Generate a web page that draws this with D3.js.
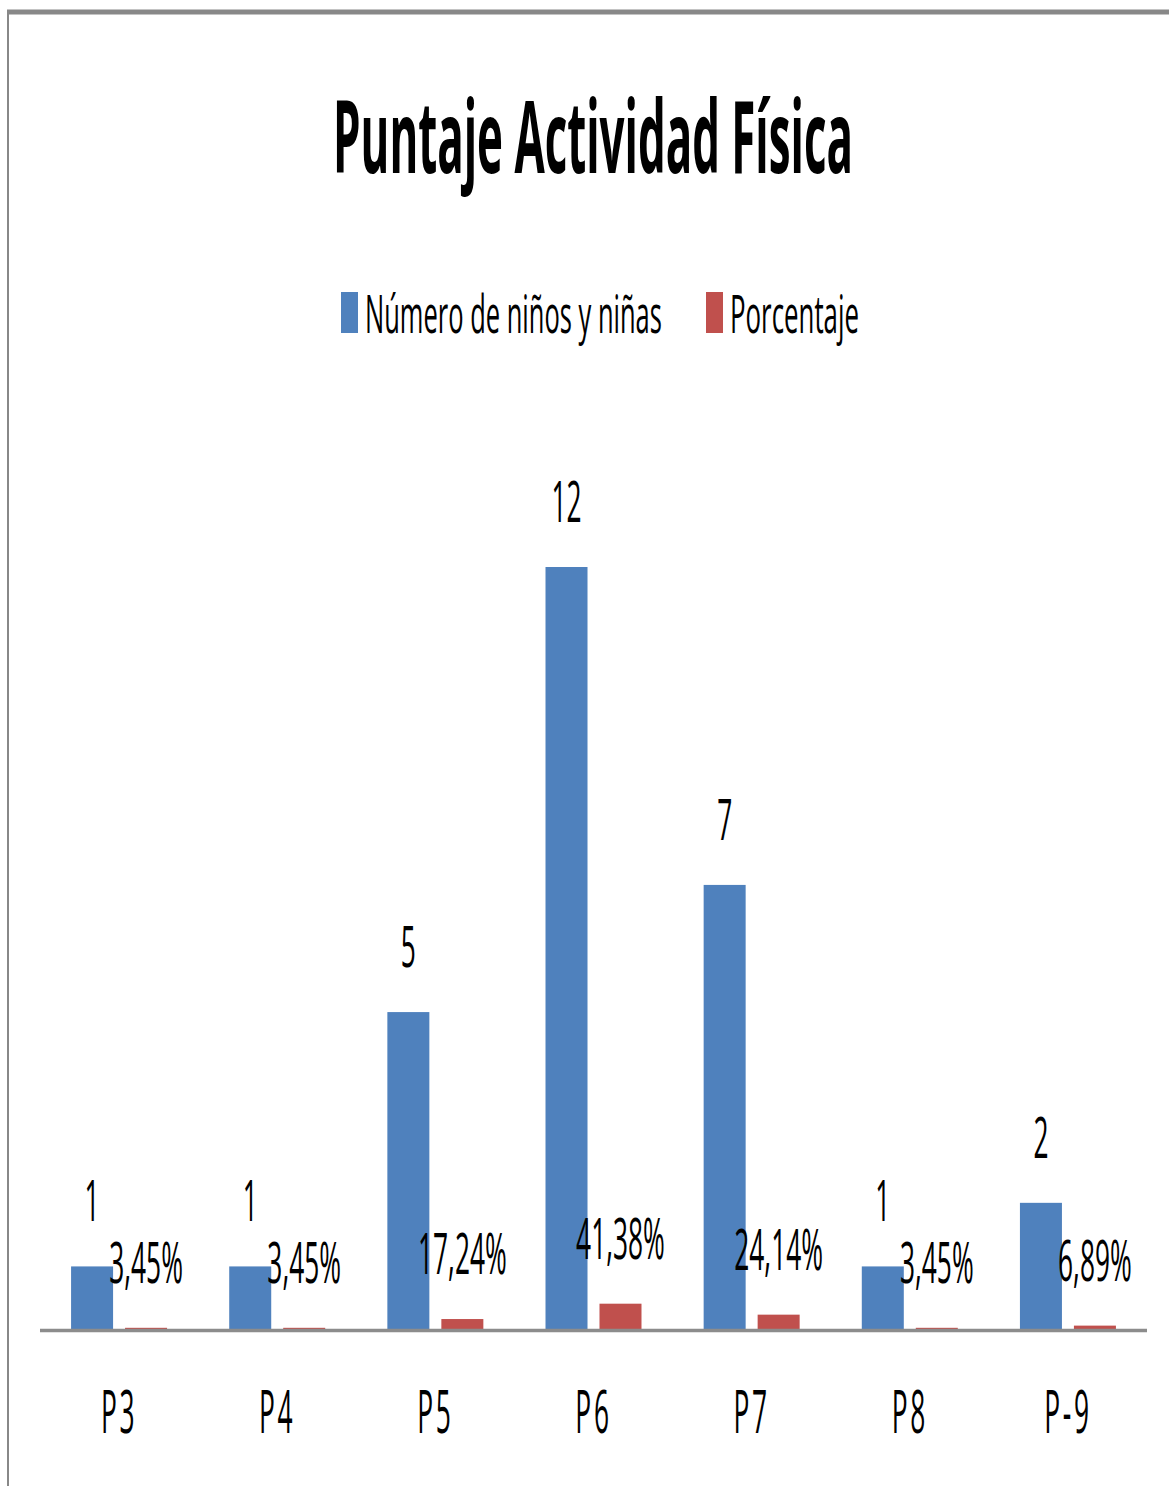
<!DOCTYPE html>
<html>
<head>
<meta charset="utf-8">
<script src="https://cdn.jsdelivr.net/npm/d3@7"></script>
<style>
  html, body { margin: 0; padding: 0; background: #fff; }
  svg { display: block; }
</style>
</head>
<body>
<div id="chart"></div>
<script>
// chart data
const categories = ['P3', 'P4', 'P5', 'P6', 'P7', 'P8', 'P-9'];
const seriesNames = ['Número de niños y niñas', 'Porcentaje'];
const ninos = [1, 1, 5, 12, 7, 1, 2];
const porcentaje = [0.0345, 0.0345, 0.1724, 0.4138, 0.2414, 0.0345, 0.0689];
const seriesColors = ['#4f81bd', '#c0504d'];
const chartTitle = 'Puntaje Actividad Física';

const width = 1169;
const height = 1486;
const plot = { left: 40, right: 1147, top: 567, bottom: 1330 };
const font = '"Open Sans", "Noto Sans", sans-serif';
const squash = 0.47; // the original text is very narrow

const svg = d3.select('#chart')
  .append('svg')
  .attr('width', width)
  .attr('height', height);

// Frame (only top and left edges are visible)
svg.append('path')
  .attr('d', `M8,${height} L8,12 L${width},12`)
  .attr('fill', 'none')
  .attr('stroke', '#888')
  .attr('stroke-width', 2);
svg.append('line')
  .attr('x1', 7).attr('x2', width)
  .attr('y1', 12).attr('y2', 12)
  .attr('stroke', '#888')
  .attr('stroke-width', 5);

// helper: horizontally condensed text
function narrowText(parent, x, y, str, opts) {
  const g = parent.append('g').attr('transform', `translate(${x},${y})`);
  const t = g.append('text')
    .attr('text-anchor', opts.anchor || 'middle')
    .style('font-family', font)
    .style('font-size', opts.size + 'px')
    .style('font-weight', opts.weight || 400)
    .style('letter-spacing', (opts.spacing || 0) + 'px')
    .attr('fill', '#000')
    .text(str);
  let sx = opts.sx || squash;
  if (opts.fitWidth) {
    sx = opts.fitWidth / t.node().getComputedTextLength();
  }
  t.attr('transform', `scale(${sx},1)`);
  return t;
}

// Title
narrowText(svg, 593, 173, chartTitle, { size: 101, weight: 700, fitWidth: 520 });

// Legend
const legendItems = [
  { name: seriesNames[0], color: seriesColors[0], x: 341, w: 297 },
  { name: seriesNames[1], color: seriesColors[1], x: 706, w: 129 }
];
legendItems.forEach(item => {
  svg.append('rect')
    .attr('x', item.x).attr('y', 292)
    .attr('width', 17).attr('height', 41)
    .attr('fill', item.color);
  narrowText(svg, item.x + 24, 333, item.name, { size: 53, anchor: 'start', fitWidth: item.w });
});

// Scales
const x0 = d3.scaleBand()
  .domain(categories)
  .range([plot.left, plot.right])
  .paddingInner(0.393)
  .paddingOuter(0.1965);

const x1 = d3.scaleBand()
  .domain(seriesNames)
  .range([0, x0.bandwidth()])
  .paddingInner(0.222);

const y = d3.scaleLinear()
  .domain([0, 12])
  .range([plot.bottom, plot.top]);

const rows = categories.map((c, i) => ({
  cat: c,
  values: [
    { key: seriesNames[0], v: ninos[i], label: String(ninos[i]), color: seriesColors[0] },
    { key: seriesNames[1], v: porcentaje[i], label: (porcentaje[i] * 100).toFixed(2).replace('.', ',') + '%', color: seriesColors[1] }
  ]
}));

const groups = svg.append('g')
  .selectAll('g')
  .data(rows)
  .enter()
  .append('g')
  .attr('transform', d => `translate(${x0(d.cat)},0)`);

groups.selectAll('rect')
  .data(d => d.values)
  .enter()
  .append('rect')
  .attr('x', d => x1(d.key))
  .attr('y', d => y(d.v))
  .attr('width', x1.bandwidth())
  .attr('height', d => y(0) - y(d.v))
  .attr('fill', d => d.color);

// Data labels
groups.each(function (d) {
  const g = d3.select(this);
  d.values.forEach(v => {
    narrowText(g, x1(v.key) + x1.bandwidth() / 2, y(v.v) - 45, v.label, { size: 56 });
  });
});

// Category axis (drawn over the bar bases)
const xAxis = svg.append('g')
  .attr('transform', `translate(0,${plot.bottom})`)
  .call(d3.axisBottom(x0).tickSize(0).tickFormat(''));
xAxis.select('.domain')
  .attr('stroke', '#8c8c8c')
  .attr('stroke-width', 3.5)
  .attr('d', `M${plot.left},0.5H${plot.right}`);

categories.forEach(c => {
  narrowText(svg, x0(c) + x0.bandwidth() / 2, 1433, c, { size: 60, spacing: 6, sx: 0.44 });
});
</script>
</body>
</html>
